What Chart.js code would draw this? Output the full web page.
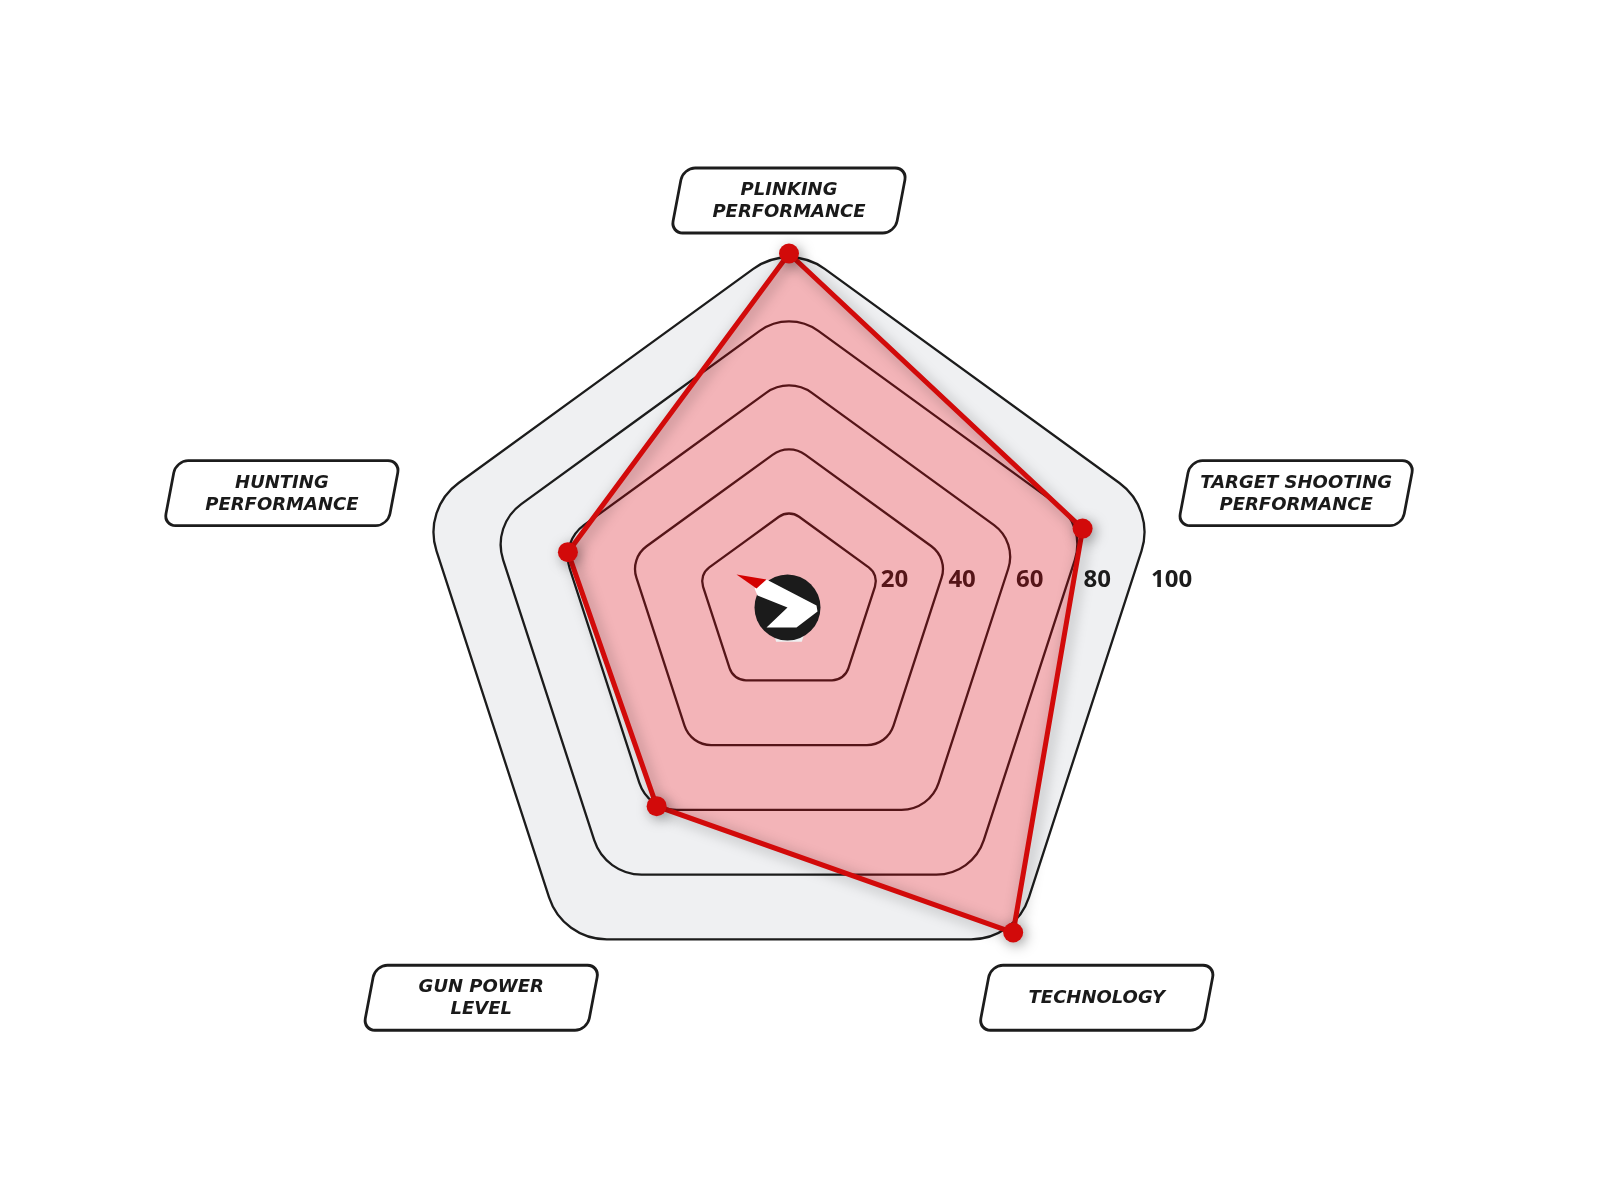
<!DOCTYPE html>
<html>
<head>
<meta charset="utf-8">
<script src="https://cdn.jsdelivr.net/npm/chart.js@4.4.1/dist/chart.umd.min.js"></script>
<style>
html,body{margin:0;background:#fff}
canvas{display:block}
</style>
</head>
<body>
<canvas id="radar" width="1600" height="1200"></canvas>
<script>
let categories = [["PLINKING","PERFORMANCE"], ["TARGET SHOOTING","PERFORMANCE"], ["TECHNOLOGY"], ["GUN POWER","LEVEL"], ["HUNTING","PERFORMANCE"]];
let scores = [96, 79, 99, 56, 58];
let ringValues = [20, 40, 60, 80, 100];
let tickLabels = ["20", "40", "60", "80", "100"];
let scaleMin = -6, scaleMax = 100;

const RED = "#d20a0a", INK = "#1c1c1c";

// rings are drawn a bit lower as they grow (the original has a slight tilt)
function ringPoints(s, v) {
  let shift = (v - 87) * 0.3, pts = [];
  for (let i = 0; i < categories.length; i++) {
    let p = s.getPointPositionForValue(i, v);
    pts.push({x: p.x, y: p.y + shift});
  }
  return pts;
}
function cornerR(s, v) { return s.getDistanceFromCenterForValue(v) * 0.15 + 3; }
function roundedPoly(ctx, pts, r) {
  let n = pts.length, a = pts[n-1], b = pts[0];
  ctx.beginPath();
  ctx.moveTo((a.x+b.x)/2, (a.y+b.y)/2);
  for (let i = 0; i < n; i++) { let p = pts[i], q = pts[(i+1)%n]; ctx.arcTo(p.x, p.y, q.x, q.y, r); }
  ctx.closePath();
}

const decor = {
  id: "decor",
  beforeDatasetsDraw(chart) {
    let ctx = chart.ctx, s = chart.scales.r;
    ctx.save();
    roundedPoly(ctx, ringPoints(s, scaleMax), cornerR(s, scaleMax));
    ctx.fillStyle = "#eff0f2"; ctx.fill();
    ctx.strokeStyle = INK; ctx.lineWidth = 2.3;
    ringValues.forEach(v => { roundedPoly(ctx, ringPoints(s, v), cornerR(s, v)); ctx.stroke(); });
    ctx.font = "bold 24px 'Open Sans'"; ctx.fillStyle = INK;
    ctx.textBaseline = "middle"; ctx.textAlign = "left";
    ringValues.forEach((v, i) => {
      let d = s.getDistanceFromCenterForValue(v);
      ctx.fillText(tickLabels[i], s.xCenter + d*0.93 + 4, s.yCenter - 44);
    });
    ctx.restore();
  },
  // ombra solo sulla linea e sui punti (il riempimento è già disegnato dal filler)
  beforeDatasetDraw(chart) {
    let ctx = chart.ctx;
    ctx.save();
    ctx.shadowColor = "rgba(0,0,0,0.35)"; ctx.shadowBlur = 14; ctx.shadowOffsetX = 3; ctx.shadowOffsetY = 3;
  },
  afterDatasetDraw(chart) { chart.ctx.restore(); },
  afterDatasetsDraw(chart) {
    let ctx = chart.ctx, s = chart.scales.r;
    // logo al centro
    ctx.save();
    ctx.translate(s.xCenter - 1.5, s.yCenter - 16.5);
    ctx.fillStyle = "#1b1b1b";
    ctx.beginPath(); ctx.arc(0, 0, 33, 0, Math.PI*2); ctx.fill();
    ctx.fillStyle = "#fff";
    ctx.beginPath();
    [[-33,-19],[-21,-28],[29,-2],[30,4],[9,20],[-21,20],[0,0],[-30,-12]].forEach((p,i)=> i ? ctx.lineTo(p[0],p[1]) : ctx.moveTo(p[0],p[1]));
    ctx.closePath(); ctx.fill();
    ctx.fillStyle = "#d40000";
    ctx.beginPath(); ctx.moveTo(-51,-33); ctx.lineTo(-21,-28); ctx.lineTo(-31,-19); ctx.closePath(); ctx.fill();
    ctx.restore();
    // etichette nei riquadri inclinati
    let W = 224, H = 65, R = s.drawingArea;
    categories.forEach((lines, i) => {
      let a = s.getIndexAngle(i), c = Math.cos(a);
      let cx = s.xCenter + Math.sin(a)*R*(c > 0 ? 1.385 : 1.36);
      let cy = s.yCenter - c*R*(c > 0 ? 1.10 : 1.2);
      ctx.save();
      ctx.translate(cx, cy);
      ctx.transform(1, 0, -0.19, 1, 0, 0);
      ctx.beginPath(); ctx.roundRect(-W/2, -H/2, W, H, 12);
      ctx.fillStyle = "#fff"; ctx.fill();
      ctx.strokeStyle = INK; ctx.lineWidth = 2.8; ctx.stroke();
      ctx.restore();
      ctx.save();
      ctx.font = "italic bold 18px 'DejaVu Sans'"; ctx.fillStyle = "#1a1a1a";
      ctx.textAlign = "center"; ctx.textBaseline = "middle";
      lines.forEach((t, j) => ctx.fillText(t, cx, cy + (j - (lines.length-1)/2)*22 + 1));
      ctx.restore();
    });
  }
};

new Chart(document.getElementById("radar"), {
  type: "radar",
  data: {
    labels: categories.map(l => l.join(" ")),
    datasets: [{
      data: scores, fill: true,
      borderColor: RED, borderWidth: 5, backgroundColor: "rgba(255,0,12,0.25)",
      pointRadius: 10, pointBackgroundColor: RED, pointBorderWidth: 0, pointHoverRadius: 10
    }]
  },
  options: {
    responsive: false, animation: false, devicePixelRatio: 1,
    layout: { padding: { left: 404, right: 426, top: 239, bottom: 191 } },
    plugins: { legend: { display: false }, tooltip: { enabled: false } },
    scales: {
      r: {
        min: scaleMin, max: scaleMax, beginAtZero: false,
        ticks: { display: false },
        grid: { display: false },
        angleLines: { display: false },
        pointLabels: { display: false }
      }
    }
  },
  plugins: [decor]
});
</script>
</body>
</html>
